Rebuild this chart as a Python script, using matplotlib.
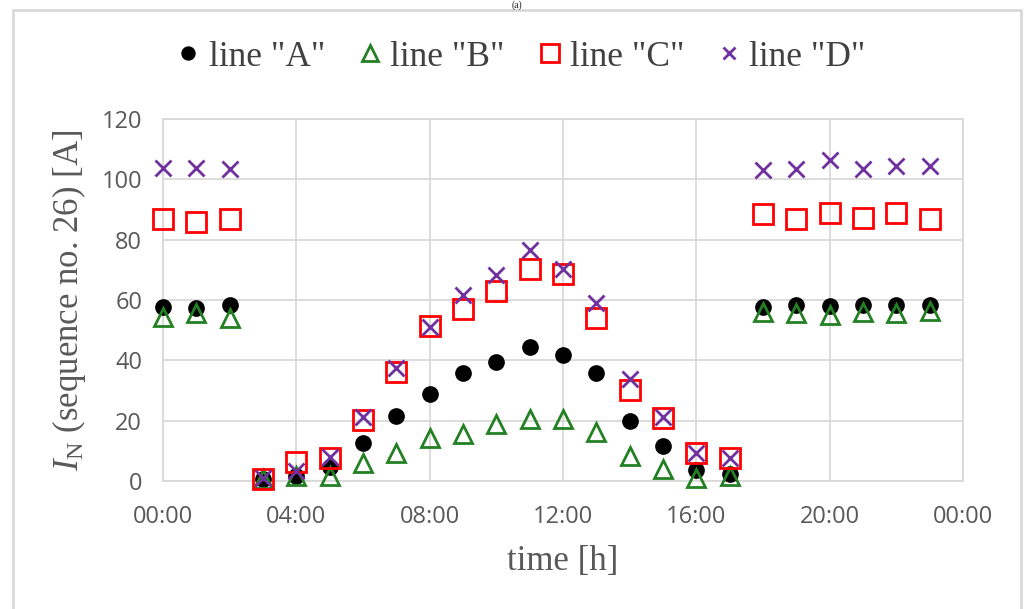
"""
Scatter of per-hour currents I_N for four lines.
"""
import matplotlib
matplotlib.use("Agg")
import matplotlib.pyplot as plt
from matplotlib.patches import Rectangle

# hours of day
hours = list(range(24))

line_a = [57.8, 57.5, 58.3, 0.5, 1.5, 4.5, 12.6, 21.6, 28.8, 35.9, 39.5, 44.5,
          41.8, 35.9, 19.9, 11.7, 3.6, 2.3, 57.8, 58.4, 57.9, 58.4, 58.4, 58.5]
line_b = [54.5, 55.6, 53.9, 0.8, 1.5, 1.6, 6.0, 9.2, 14.2, 15.5, 18.8, 20.5,
          20.5, 16.3, 8.3, 3.9, 1.0, 1.5, 56.1, 55.6, 55.0, 56.0, 55.6, 56.3]
line_c = [86.8, 86.0, 86.8, 0.8, 6.2, 7.6, 20.2, 36.1, 51.4, 56.9, 63.1, 70.2,
          68.5, 54.1, 30.2, 21.0, 9.4, 7.7, 88.5, 86.8, 89.0, 87.3, 88.7, 86.8]
line_d = [103.9, 103.9, 103.4, 1.0, 3.3, 7.8, 21.3, 37.5, 51.2, 61.6, 68.3, 76.6,
          70.3, 58.9, 33.7, 21.3, 9.2, 7.5, 103.1, 103.5, 106.4, 103.3, 104.4, 104.4]

x_ticks = [0, 4, 8, 12, 16, 20, 24]
x_labels = ["00:00", "04:00", "08:00", "12:00", "16:00", "20:00", "00:00"]
y_ticks = [0, 20, 40, 60, 80, 100, 120]

plt.rcParams["mathtext.fontset"] = "custom"
plt.rcParams["mathtext.rm"] = "Liberation Serif"
plt.rcParams["mathtext.it"] = "Liberation Serif:italic"

serif = "Liberation Serif"
sans = "Open Sans"
grid_c = "#d9d9d9"
txt_c = "#595959"

fig = plt.figure(figsize=(10.25, 6.09), dpi=100)
ax = fig.add_axes([163 / 1025, 1 - 481 / 609, 800 / 1025, 362 / 609])

# outer chart frame
fig.patches.append(Rectangle((13 / 1025, -0.05), (1021 - 13) / 1025, 1.05 - 10 / 609,
                             transform=fig.transFigure, fill=False,
                             edgecolor=grid_c, lw=2))
fig.text(517 / 1025, 1 - 0.5 / 609, "(a)", ha="center", va="top", fontsize=7,
         family=serif, color="#222222")

ax.plot(hours, line_a, ls="none", marker="o", ms=11, color="black",
        label='line "A"', zorder=3, clip_on=False)
ax.plot(hours, line_b, ls="none", marker="^", ms=13, mfc="none", mew=2,
        color="#238023", label='line "B"', zorder=4, clip_on=False)
ax.plot(hours, line_c, ls="none", marker="s", ms=15, mfc="none", mew=2,
        color="#ff0000", label='line "C"', zorder=5, clip_on=False)
ax.plot(hours, line_d, ls="none", marker="x", ms=11, mew=2,
        color="#7030a0", label='line "D"', zorder=6, clip_on=False)

ax.set_xlim(0, 24)
ax.set_ylim(0, 120)
ax.set_xticks(x_ticks)
ax.set_xticklabels(x_labels)
ax.set_yticks(y_ticks)
ax.grid(True, color=grid_c, lw=1.3)
ax.set_axisbelow(True)
for s in ax.spines.values():
    s.set_color(grid_c)
    s.set_linewidth(1.3)
ax.tick_params(length=0, labelsize=17, labelcolor=txt_c)
ax.tick_params(axis="x", pad=17)
ax.tick_params(axis="y", pad=15)
for lab in ax.get_xticklabels() + ax.get_yticklabels():
    lab.set_family(sans)

ax.set_xlabel("time [h]", fontsize=25, family=serif, color=txt_c, labelpad=12)
ax.set_ylabel(r"$I_\mathrm{N}$ (sequence no. 26) [A]", fontsize=25,
              family=serif, color=txt_c, labelpad=10)

leg = fig.legend(loc="center", bbox_to_anchor=(0.509, 1 - 57 / 609), ncol=4,
                 frameon=False, handlelength=0.6, handletextpad=0.27,
                 columnspacing=0.97, markerscale=0.85,
                 prop={"family": serif, "size": 25.5})
for t in leg.get_texts():
    t.set_color("#404040")

fig.savefig("out.png", dpi=100)
